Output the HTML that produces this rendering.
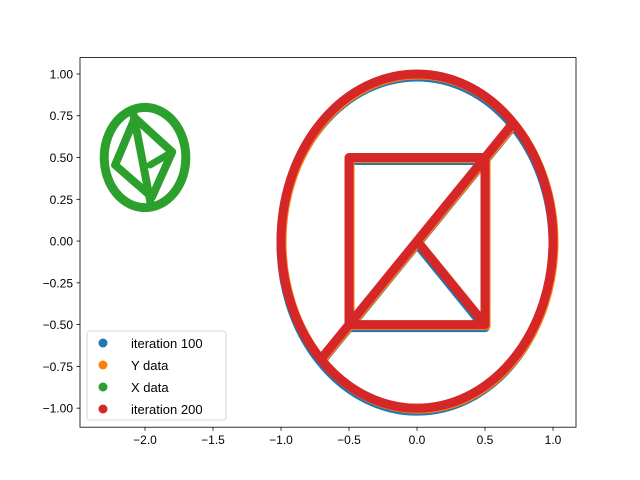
<!DOCTYPE html>
<html><head><meta charset="utf-8"><style>
body{margin:0;background:#fff;}
svg{display:block;font-family:"Liberation Sans","DejaVu Sans",sans-serif;}
</style></head><body>
<svg id="chart" width="640" height="480">
<rect x="0" y="0" width="640" height="480" fill="#fff"/>
<g id="marks"></g>
<rect x="80" y="57.6" width="496" height="369.6" fill="none" stroke="#000" stroke-width="0.8"/>
<g id="axes"></g>
<g>
<rect x="87" y="331" width="139" height="89" rx="3" fill="#fff" fill-opacity="0.8" stroke="#ccc" stroke-width="0.8"/>
<g><circle cx="103" cy="343" r="4.5" fill="#1f77b4"/><text x="131" y="348" font-size="13">iteration 100</text></g>
<g><circle cx="103" cy="365" r="4.5" fill="#ff7f0e"/><text x="131" y="370" font-size="13">Y data</text></g>
<g><circle cx="103" cy="387" r="4.5" fill="#2ca02c"/><text x="131" y="392" font-size="13">X data</text></g>
<g><circle cx="103" cy="409" r="4.5" fill="#d62728"/><text x="131" y="414" font-size="13">iteration 200</text></g>
</g>
</svg>
<script>
const xTicks=[-2.0,-1.5,-1.0,-0.5,0.0,0.5,1.0];
const xTickLabels=["−2.0","−1.5","−1.0","−0.5","0.0","0.5","1.0"];
const yTicks=[1.0,0.75,0.5,0.25,0,-0.25,-0.5,-0.75,-1.0];
const yTickLabels=["1.00","0.75","0.50","0.25","0.00","−0.25","−0.50","−0.75","−1.00"];
const bigCircle=[0,0,1.0];
const squareX=[-0.5,0.5,0.5,-0.5,-0.5];
const squareY=[0.5,0.5,-0.5,-0.5,0.5];
const diagX=[-0.7,0.7];
const diagY=[-0.7,0.7];
const vX=[0,0.5];
const vY=[0,-0.5];
const smallCircle=[-2.0,0.5,0.3];
const quadX=[-2.074,-1.80,-1.949,-2.22,-2.074];
const quadY=[0.737,0.533,0.263,0.455,0.737];
const smallDiagX=[-2.088,-1.956];
const smallDiagY=[0.772,0.216];
const innerX=[-1.80,-1.963];
const innerY=[0.533,0.455];

const X0=-2.478,X1=1.169,Y0=-1.114,Y1=1.098;
const L=80,R=576,T=57.6,B=427.2;
const sx=v=>L+(v-X0)/(X1-X0)*(R-L);
const sy=v=>B-(v-Y0)/(Y1-Y0)*(B-T);
const NS="http://www.w3.org/2000/svg";
const marks=document.getElementById('marks');
function poly(xs,ys,color,w,name,dx,dy){
  const p=document.createElementNS(NS,'polyline');
  p.setAttribute('points',xs.map((x,i)=>(sx(x)+dx)+','+(sy(ys[i])+dy)).join(' '));
  p.setAttribute('fill','none');p.setAttribute('stroke',color);p.setAttribute('stroke-width',w);
  p.setAttribute('stroke-linecap','round');p.setAttribute('stroke-linejoin','round');
  
  
  marks.appendChild(p);
}
function ell(c,color,w,name,dx,dy){
  const e=document.createElementNS(NS,'ellipse');
  e.setAttribute('cx',sx(c[0])+dx);e.setAttribute('cy',sy(c[1])+dy);
  e.setAttribute('rx',sx(c[0]+c[2])-sx(c[0]));e.setAttribute('ry',sy(c[1])-sy(c[1]+c[2]));
  e.setAttribute('fill','none');e.setAttribute('stroke',color);e.setAttribute('stroke-width',w);
  
  
  marks.appendChild(e);
}
function bigShape(color,prefix,dx,dy,w){
  ell(bigCircle,color,w,prefix+'-circle',dx,dy);
  poly(squareX,squareY,color,w,prefix+'-square',dx,dy);
  poly(diagX,diagY,color,w,prefix+'-diagonal',dx,dy);
  poly(vX,vY,color,w,prefix+'-v-line',dx,dy);
}
bigShape('#1f77b4','iteration-100',0,3,9);
bigShape('#ff7f0e','y-data',1,1,9);
ell(smallCircle,'#2ca02c',9,'x-data-circle',0,0);
poly(quadX,quadY,'#2ca02c',8,'x-data-quad',0,0);
poly(smallDiagX,smallDiagY,'#2ca02c',8,'x-data-diagonal',0,0);
poly(innerX,innerY,'#2ca02c',7,'x-data-inner-line',0,0);
bigShape('#d62728','iteration-200',0,0,9);

const axes=document.getElementById('axes');
xTicks.forEach((v,i)=>{
  const l=document.createElementNS(NS,'line');
  l.setAttribute('x1',sx(v));l.setAttribute('x2',sx(v));l.setAttribute('y1',B);l.setAttribute('y2',B+3.5);
  l.setAttribute('stroke','#000');l.setAttribute('stroke-width','0.8');
  
  
  axes.appendChild(l);
  const t=document.createElementNS(NS,'text');
  t.setAttribute('x',sx(v));t.setAttribute('y',B+17);t.setAttribute('text-anchor','middle');t.setAttribute('font-size','12');
  t.textContent=xTickLabels[i];
  
  
  axes.appendChild(t);
});
yTicks.forEach((v,i)=>{
  const l=document.createElementNS(NS,'line');
  l.setAttribute('x1',L-3.5);l.setAttribute('x2',L);l.setAttribute('y1',sy(v));l.setAttribute('y2',sy(v));
  l.setAttribute('stroke','#000');l.setAttribute('stroke-width','0.8');
  
  
  axes.appendChild(l);
  const t=document.createElementNS(NS,'text');
  t.setAttribute('x',L-7);t.setAttribute('y',sy(v)+4.5);t.setAttribute('text-anchor','end');t.setAttribute('font-size','12');
  t.textContent=yTickLabels[i];
  
  
  axes.appendChild(t);
});
</script>
</body></html>
